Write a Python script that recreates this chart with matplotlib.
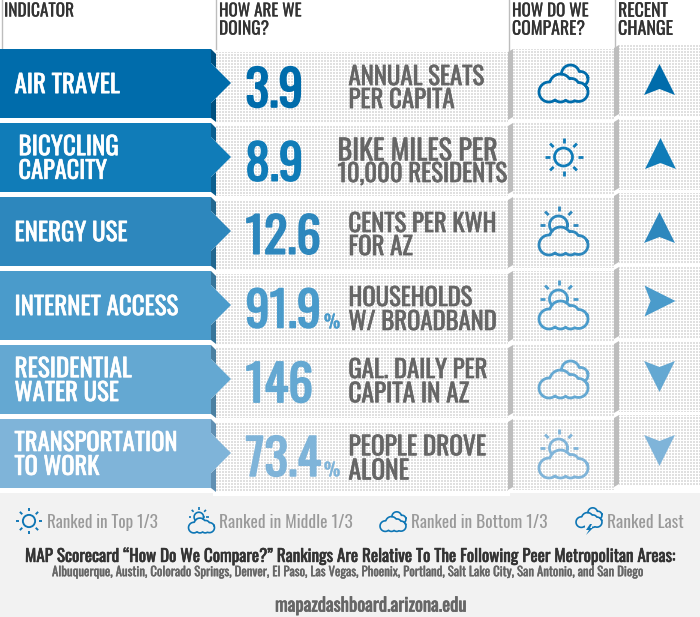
import matplotlib
matplotlib.use('Agg')
import matplotlib.pyplot as plt
import matplotlib.patheffects as pe
from matplotlib.patches import Polygon, Rectangle, Circle
import numpy as np

plt.rcParams['font.family'] = ['Oswald', 'Liberation Sans', 'DejaVu Sans']

# scorecard content
headers = ['INDICATOR', 'HOW ARE WE', 'DOING?', 'HOW DO WE', 'COMPARE?', 'RECENT', 'CHANGE']
indicators = [['AIR TRAVEL'], ['BICYCLING', 'CAPACITY'], ['ENERGY USE'],
              ['INTERNET ACCESS'], ['RESIDENTIAL', 'WATER USE'], ['TRANSPORTATION', 'TO WORK']]
values = ['3.9', '8.9', '12.6', '91.9', '146', '73.4']
percent = [False, False, False, True, False, True]
units = [['ANNUAL SEATS', 'PER CAPITA'], ['BIKE MILES PER', '10,000 RESIDENTS'],
         ['CENTS PER KWH', 'FOR AZ'], ['HOUSEHOLDS', 'W/ BROADBAND'],
         ['GAL. DAILY PER', 'CAPITA IN AZ'], ['PEOPLE DROVE', 'ALONE']]
ranks = ['bottom', 'top', 'middle', 'middle', 'bottom', 'middle']
changes = ['up', 'up', 'up', 'right', 'down', 'down']
legend_labels = ['Ranked in Top 1/3', 'Ranked in Middle 1/3', 'Ranked in Bottom 1/3', 'Ranked Last']
title = 'MAP Scorecard \u201cHow Do We Compare?\u201d Rankings Are Relative To The Following Peer Metropolitan Areas:'
peers = 'Albuquerque, Austin, Colorado Springs, Denver, El Paso, Las Vegas, Phoenix, Portland, Salt Lake City, San Antonio, and San Diego'
url = 'mapazdashboard.arizona.edu'

# styles
row_colors = ['#006cab', '#107cb8', '#2d87bd', '#4a9bcb', '#64a8d2', '#7fb4d9']
fold_colors = ['#00507f', '#0b5f8f', '#22678f', '#38769b', '#4b80a1', '#6190b3']
legend_blue = '#0e76b5'
bar_grey = '#bdbdbd'
step = 74

fig = plt.figure(figsize=(7, 6.17), dpi=100)
ax = fig.add_axes([0, 0, 1, 1])
ax.axis('off')
renderer = fig.canvas.get_renderer()


def label(s, x0, x1, yc, color, heavy=0):
    # size the text so it spans x0..x1, vertically centred on the capitals at yc
    # heavy thickens the strokes, Oswald only comes in one weight here
    t = ax.text(x0, yc, s, color=color, fontsize=12, ha='left', va='baseline', zorder=5)
    for i in range(2):
        w = t.get_window_extent(renderer).width
        t.set_fontsize(t.get_fontsize() * (x1 - x0) / w)
    t.set_y(yc + 0.405 * t.get_fontsize() * 100 / 72)
    if heavy:
        t.set_path_effects([pe.withStroke(linewidth=heavy, foreground=color)])
    return t


def dots(x0, y0, x1, y1):
    w = x1 - x0
    h = y1 - y0
    img = np.ones((h, w, 3))
    xx, yy = np.meshgrid(np.arange(w) + x0, np.arange(h) + y0)
    img[(xx % 3 < 2) & (yy % 3 < 2)] = 0.88
    ax.imshow(img, extent=(x0, x1, y1, y0), interpolation='nearest', aspect='auto', zorder=1)


# front cloud lobes (x, y, r), y pointing down
lobes = [(-14.5, 4, 10), (15, 4, 9.5), (-3, -3, 11), (8, -2, 7.5), (-3, 6, 8), (7, 7, 7)]
# cloud peeking out behind, same coordinates
back_lobes = [(7, -14, 9), (17, -9, 7.5), (10, -8, 8)]


def outline(circles, ox=0, oy=0):
    # outline of a union of circles, seen from (ox, oy)
    th = np.linspace(0, 2 * np.pi, 721)
    rad = np.zeros_like(th)
    for cx, cy, r in circles:
        cx = cx - ox
        cy = cy - oy
        d = np.cos(th) * cx + np.sin(th) * cy
        disc = r ** 2 - cx ** 2 - cy ** 2 + d ** 2
        t = np.where(disc >= 0, d + np.sqrt(np.maximum(disc, 0)), 0)
        rad = np.maximum(rad, t)
    return ox + rad * np.cos(th), oy + rad * np.sin(th)


def in_cloud(x, y):
    inside = np.zeros_like(x, dtype=bool)
    for cx, cy, r in lobes:
        inside |= (x - cx) ** 2 + (y - cy) ** 2 < r ** 2
    return inside


def rays(cx, cy, s, color, lw, angles):
    for a in angles:
        c = np.cos(np.radians(a))
        n = -np.sin(np.radians(a))
        ax.plot([cx + 14 * s * c, cx + 19 * s * c], [cy + 14 * s * n, cy + 19 * s * n],
                color=color, lw=lw, solid_capstyle='butt', zorder=4)


def icon(kind, cx, cy, s, color):
    lw = max(2.0 * s, 1.2)
    if kind == 'top':
        ax.add_patch(Circle((cx, cy), 9 * s, fill=False, ec=color, lw=lw, zorder=4))
        rays(cx, cy, s, color, lw, [0, 45, 90, 135, 180, 225, 270, 315])
        return
    fx, fy = outline(lobes)
    ax.plot(cx + fx * s, cy + fy * s, color=color, lw=lw, zorder=4)
    if kind == 'middle':
        th = np.linspace(0, 2 * np.pi, 361)
        sx = -5 + 9 * np.cos(th)
        sy = -16 + 9 * np.sin(th)
        sy = np.where(in_cloud(sx, sy), np.nan, sy)
        ax.plot(cx + sx * s, cy + sy * s, color=color, lw=lw, zorder=4)
        rays(cx - 5 * s, cy - 16 * s, s, color, lw, [0, 45, 90, 135, 180])
    else:
        bx, by = outline(back_lobes, 10, -11)
        by = np.where(in_cloud(bx, by), np.nan, by)
        ax.plot(cx + bx * s, cy + by * s, color=color, lw=lw, zorder=4)
    if kind == 'last':
        ax.add_patch(Rectangle((cx - 4, cy + 5), 7, 4, fc='#f2f2f2', ec='none', zorder=5))
        bolt = np.array([[1, 4], [-3, 10], [0, 10], [-3, 15], [4, 8], [1, 8], [3, 4]], dtype=float)
        ax.add_patch(Polygon(bolt + [cx, cy], fc=color, ec='none', zorder=6))


def arrow(direction, cx, cy, color):
    shape = np.array([[0, -16], [15.5, 15], [0, 9], [-15.5, 15]], dtype=float)
    if direction == 'right':
        shape = np.column_stack([-shape[:, 1], shape[:, 0]])
    if direction == 'down':
        shape = shape * [1, -1]
    ax.add_patch(Polygon(shape + [cx, cy], fc=color, ec='none', zorder=3))


# header rules
for x, y1 in [(1.5, 49), (215.5, 49), (508.5, 52), (614.5, 48)]:
    ax.plot([x, x], [0, y1], color=bar_grey, lw=1.0, zorder=1)

# header text
label(headers[0], 4, 74, 9.5, '#333333', 0.15)
label(headers[1], 219, 302, 9.5, '#333333', 0.15)
label(headers[2], 219, 269, 27.5, '#333333', 0.15)
label(headers[3], 512, 589, 9.5, '#333333', 0.15)
label(headers[4], 512, 585, 27.5, '#333333', 0.15)
label(headers[5], 618, 668, 9.5, '#333333', 0.15)
label(headers[6], 618, 673, 27.5, '#333333', 0.15)

# text extents of each row
indicator_pos = [[(14.5, 120, 83)], [(18.5, 119, 145), (18.5, 107, 169)], [(14.5, 128, 231)],
                 [(14.5, 179, 305)], [(14.5, 132, 367), (14.5, 119, 391)], [(14.5, 178, 441), (14.5, 99, 465)]]
value_pos = [(245.5, 303, 87), (245.5, 303, 161), (245.5, 321, 234), (245.5, 321, 308), (245.5, 313, 382), (245.5, 321, 456)]
unit_pos = [[(348.5, 484, 75), (348.5, 455, 98)], [(337.5, 497, 149), (337.5, 508, 172)],
            [(348.5, 496, 222), (348.5, 413, 245)], [(348.5, 473, 296), (348.5, 496, 320)],
            [(348.5, 488, 368), (348.5, 469, 392)], [(348.5, 486, 445), (348.5, 409, 469)]]
icon_y = [88, 157, 241, 315, 384, 464]
arrow_y = [80, 154, 228, 301, 376, 450]

for i in range(6):
    y = step * i
    c = row_colors[i]
    # dotted panels
    dots(216, 52 + y, 508, min(122 + y, 493))
    dots(513, 49 + y, 614, 120 + y)
    dots(619, 45 + y, 700, 116 + y)
    ax.add_patch(Polygon([(508, 52 + y), (513, 49 + y), (513, 117 + y), (508, 120 + y)], fc=bar_grey, ec='none', zorder=2))
    ax.add_patch(Polygon([(614, 48 + y), (619, 45 + y), (619, 114 + y), (614, 117 + y)], fc=bar_grey, ec='none', zorder=2))
    # ribbon
    ax.add_patch(Polygon([(211, 49 + y), (216, 54 + y), (216, 68 + y), (211, 63 + y)], fc=fold_colors[i], ec='none', zorder=2))
    ax.add_patch(Polygon([(211, 103 + y), (216, 98 + y), (216, 122 + y), (211, 118 + y)], fc=fold_colors[i], ec='none', zorder=2))
    ax.add_patch(Polygon([(0, 49 + y), (211, 49 + y), (211, 63 + y), (231, 83 + y), (211, 103 + y), (211, 118 + y), (0, 118 + y)],
                         fc=c, ec='none', zorder=3))
    for s, pos in zip(indicators[i], indicator_pos[i]):
        label(s, pos[0], pos[1], pos[2], 'white', 0.45)
    label(values[i], value_pos[i][0], value_pos[i][1], value_pos[i][2], c, 1.2)
    if percent[i]:
        label('%', 324, 340, value_pos[i][2] + 13, c, 0.3)
    for s, pos in zip(units[i], unit_pos[i]):
        label(s, pos[0], pos[1], pos[2], '#666666', 0.45)
    icon(ranks[i], 563.5, icon_y[i], 1.0, c)
    arrow(changes[i], 659.5 + (1 if i == 1 else 0), arrow_y[i], c)

# footer
ax.add_patch(Rectangle((0, 493), 700, 124, fc='#f2f2f2', ec='none', zorder=1.5))
ax.add_patch(Rectangle((213, 493), 297, 3, fc='white', ec='none', zorder=1.6))

icon('top', 29, 521, 0.68, legend_blue)
icon('middle', 201.5, 525.5, 0.53, legend_blue)
icon('bottom', 393, 524, 0.53, legend_blue)
icon('last', 589, 520, 0.53, legend_blue)
legend_pos = [(47, 158), (219, 353), (411, 547), (607, 684)]
for s, pos in zip(legend_labels, legend_pos):
    label(s, pos[0], pos[1], 521, '#9a9a9a')

label(title, 25, 675, 555, '#333333', 0.4)
label(peers, 52, 648, 571, '#666666', 0.25)
label(url, 275, 466, 604, '#666666', 0.5)

ax.set_xlim(0, 700)
ax.set_ylim(617, 0)
fig.savefig('out.png', dpi=100)
